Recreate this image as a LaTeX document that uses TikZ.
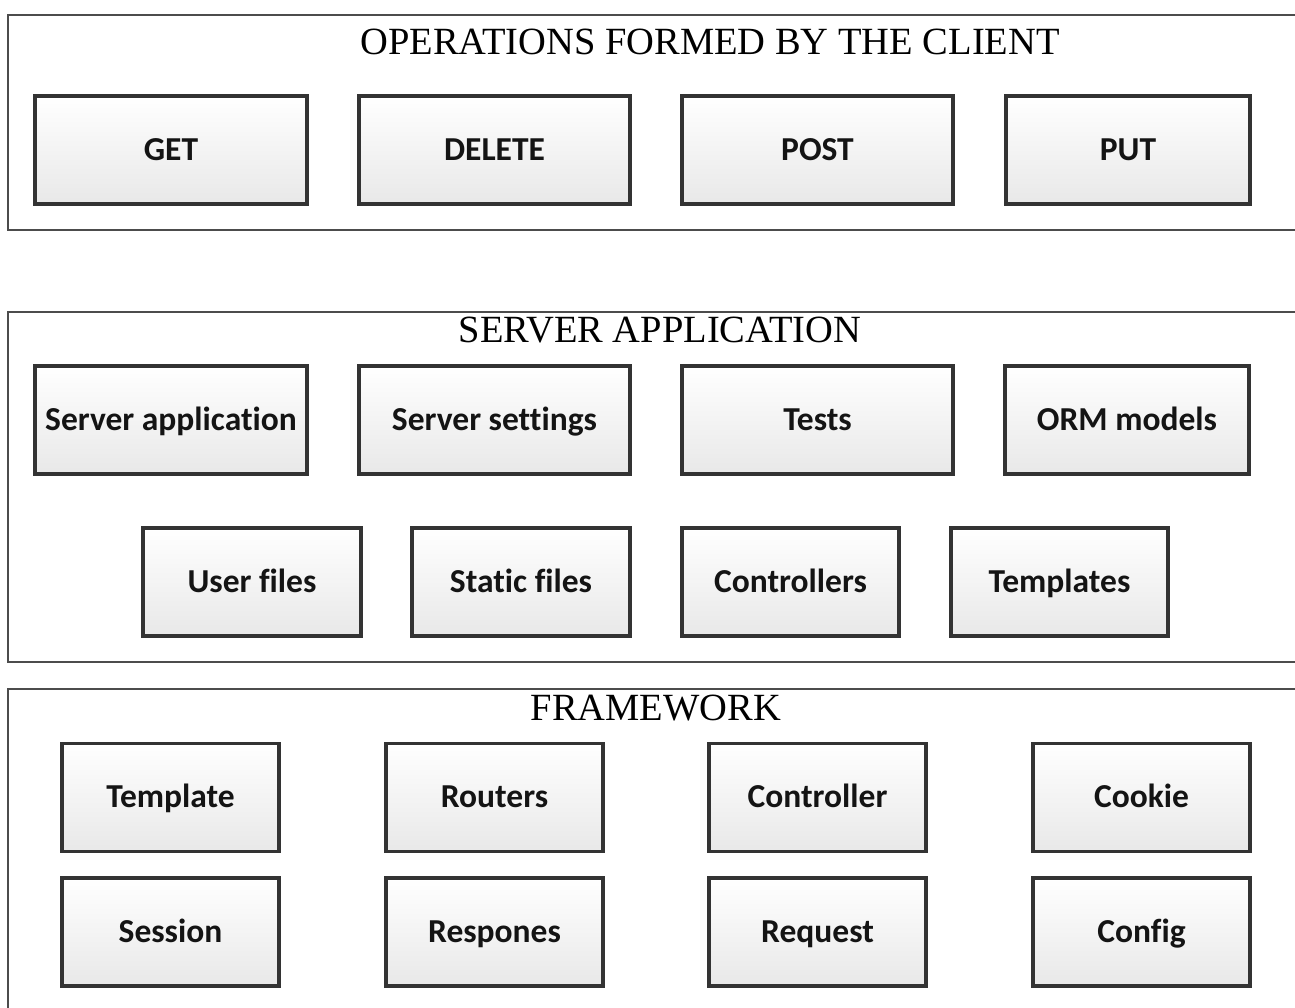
\documentclass[tikz,border=0pt]{standalone}
\usepackage{fontspec}
\setmainfont{Liberation Serif}
\newfontfamily\boxfont[Ligatures=NoCommon]{Carlito}
\begin{document}
\begin{tikzpicture}[x=1pt,y=-1pt,
  frame/.style={draw=black!70, line width=2.2pt},
  title/.style={font=\fontsize{38.5}{40}\selectfont, text=black, inner sep=0pt, anchor=center},
  item/.style={draw=black!80, line width=3.2pt, top color=white, bottom color=black!9,
    minimum height=108pt, inner sep=0pt, text height=24pt, text depth=4pt,
    font=\boxfont\bfseries\fontsize{33.5}{35}\selectfont, text=black!92}]
\useasboundingbox (0,0) rectangle (1295,1007);
\begin{scope}
\clip (0,0) rectangle (1295,1007);
% the three layer frames (open to the right and bottom edges)
\draw[frame] (8,15) rectangle (1320,230);
\draw[frame] (8,312) rectangle (1320,662);
\draw[frame] (8,689) rectangle (1320,1030);
\end{scope}

% layer titles
\node[title] (tclient) at (710,42) {OPERATIONS FORMED BY THE CLIENT};
\node[title] (tserver) at (660,330) {SERVER APPLICATION};
\node[title] (tframe)  at (656,708) {FRAMEWORK};

% client operations
\node[item, minimum width=272pt] (get)    at (171,150)   {GET};
\node[item, minimum width=271pt] (delete) at (494.5,150) {DELETE};
\node[item, minimum width=271pt] (post)   at (817.5,150) {POST};
\node[item, minimum width=244pt] (put)    at (1128,150)  {PUT};

% server application
\node[item, minimum width=272pt] (srvapp)  at (171,420)   {Server application};
\node[item, minimum width=271pt] (srvset)  at (494.5,420) {Server settings};
\node[item, minimum width=271pt] (tests)   at (817.5,420) {Tests};
\node[item, minimum width=244pt] (orm)     at (1127,420)  {ORM models};
\node[item, minimum width=218pt] (ufiles)  at (252,582)   {User files};
\node[item, minimum width=218pt] (sfiles)  at (521,582)   {Static files};
\node[item, minimum width=217pt] (ctrls)   at (790.5,582) {Controllers};
\node[item, minimum width=217pt] (tmpls)   at (1059.5,582){Templates};

% framework
\node[item, minimum width=217pt] (template)   at (170.5,797.5)  {Template};
\node[item, minimum width=217pt] (routers)    at (494.5,797.5)  {Routers};
\node[item, minimum width=217pt] (controller) at (817.5,797.5)  {Controller};
\node[item, minimum width=217pt] (cookie)     at (1141.5,797.5) {Cookie};
\node[item, minimum width=217pt] (session)    at (170.5,932)    {Session};
\node[item, minimum width=217pt] (respones)   at (494.5,932)    {Respones};
\node[item, minimum width=217pt] (request)    at (817.5,932)    {Request};
\node[item, minimum width=217pt] (config)     at (1141.5,932)   {Config};
\end{tikzpicture}
\end{document}
